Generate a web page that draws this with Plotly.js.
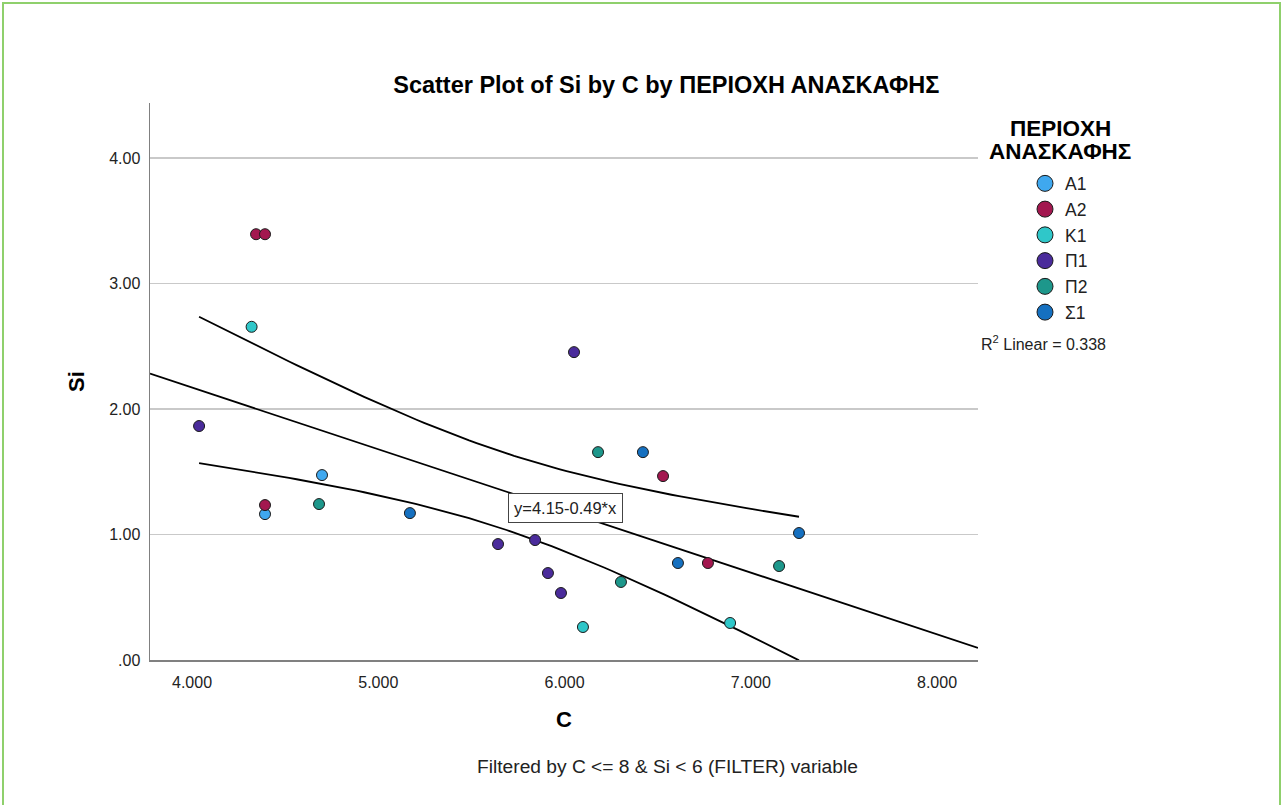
<!DOCTYPE html>
<html><head><meta charset="utf-8">
<script src="https://cdn.plot.ly/plotly-3.0.1.min.js"></script>
<style>
html,body{margin:0;padding:0;background:#fff;overflow:hidden;}
#chart{width:1283px;height:805px;}
#frame{position:absolute;left:2px;top:2px;width:1275px;height:830px;border:2px solid #8fd06c;border-bottom:none;pointer-events:none;}
</style></head><body>
<div id="chart"></div><div id="frame"></div>
<script>
// ---- data ----
const groups = ["Α1", "Α2", "Κ1", "Π1", "Π2", "Σ1"];
const c_A1 = [4.392, 4.698];
const si_A1 = [1.163, 1.474];
const c_A2 = [4.344, 4.392, 4.392, 6.529, 6.770];
const si_A2 = [3.394, 3.394, 1.235, 1.466, 0.773];
const c_K1 = [4.320, 6.099, 6.889];
const si_K1 = [2.656, 0.263, 0.295];
const c_P1 = [4.038, 6.051, 5.643, 5.842, 5.911, 5.981];
const si_P1 = [1.865, 2.454, 0.924, 0.956, 0.693, 0.534];
const c_P2 = [4.682, 6.180, 6.303, 7.152];
const si_P2 = [1.243, 1.657, 0.622, 0.749];
const c_S1 = [5.170, 6.421, 6.609, 7.259];
const si_S1 = [1.171, 1.657, 0.773, 1.012];
const xTickVals = [4, 5, 6, 7, 8];
const xTickText = ["4.000", "5.000", "6.000", "7.000", "8.000"];
const yTickVals = [0, 1, 2, 3, 4];
const yTickText = [".00", "1.00", "2.00", "3.00", "4.00"];
const eqLabel = "y=4.15-0.49*x";
const r2Label = "R<sup>2</sup> Linear = 0.338";
const tCrit = 2.0739; // t(0.975, df=22)

// ---- styles ----
const colors = ["#3fa8ef", "#a3174f", "#2fc7c9", "#4a2b9b", "#1d978b", "#1570c0"];
const FONT = "Liberation Sans, Arial, sans-serif";
const xRange = [3.7745, 8.22];
const yRange = [0, 4.44];

const xsAll = [c_A1, c_A2, c_K1, c_P1, c_P2, c_S1];
const ysAll = [si_A1, si_A2, si_K1, si_P1, si_P2, si_S1];

// OLS fit with mean confidence band
const X = [].concat(...xsAll), Y = [].concat(...ysAll);
const n = X.length;
const mx = X.reduce((a, b) => a + b, 0) / n, my = Y.reduce((a, b) => a + b, 0) / n;
let sxx = 0, sxy = 0, syy = 0;
for (let i = 0; i < n; i++) { sxx += (X[i] - mx) ** 2; sxy += (X[i] - mx) * (Y[i] - my); syy += (Y[i] - my) ** 2; }
const b1 = sxy / sxx, b0 = my - b1 * mx;
const s = Math.sqrt((syy - sxy * sxy / sxx) / (n - 2));
const xmin = Math.min(...X), xmax = Math.max(...X);
const bx = [], bu = [], bl = [];
for (let k = 0; k <= 80; k++) {
  const x = xmin + (xmax - xmin) * k / 80;
  const h = tCrit * s * Math.sqrt(1 / n + (x - mx) ** 2 / sxx);
  bx.push(x); bu.push(b0 + b1 * x + h); bl.push(b0 + b1 * x - h);
}

const traces = [];
const lineStyle = {color: "#000", width: 1.8};
traces.push({x: xRange, y: xRange.map(x => b0 + b1 * x), mode: "lines", line: lineStyle, showlegend: false, hoverinfo: "skip"});
traces.push({x: bx, y: bu, mode: "lines", line: lineStyle, showlegend: false, hoverinfo: "skip"});
traces.push({x: bx, y: bl, mode: "lines", line: lineStyle, showlegend: false, hoverinfo: "skip"});

groups.forEach((g, i) => {
  traces.push({
    x: xsAll[i], y: ysAll[i], mode: "markers", name: g, legendgroup: g, showlegend: false,
    marker: {size: 11, color: colors[i], line: {color: "#1a1a1a", width: 1}}
  });
});
groups.forEach((g, i) => {
  traces.push({
    x: [null], y: [null], mode: "markers", name: g, legendgroup: g, showlegend: true,
    marker: {size: 16, color: colors[i], line: {color: "#1a1a1a", width: 1}}
  });
});

const layout = {
  width: 1283, height: 805,
  margin: {l: 150, r: 305, t: 103, b: 145},
  paper_bgcolor: "#fff", plot_bgcolor: "#fff",
  font: {family: FONT, color: "#222"},
  title: {
    text: "Scatter Plot of Si by C by ΠΕΡΙΟΧΗ ΑΝΑΣΚΑΦΗΣ",
    font: {family: FONT, size: 23.5, color: "#000", weight: "bold"},
    xref: "paper", x: 0.6235, xanchor: "center",
    yref: "container", y: 1 - 85 / 805, yanchor: "middle"
  },
  xaxis: {
    range: xRange, showgrid: false, zeroline: false,
    showline: true, linecolor: "#808080", linewidth: 1.5,
    tickmode: "array", tickvals: xTickVals, ticktext: xTickText,
    ticks: "outside", ticklen: 7, tickcolor: "rgba(0,0,0,0)",
    tickfont: {size: 16, color: "#222"},
    title: {text: "C", font: {family: FONT, size: 22, color: "#000", weight: "bold"}, standoff: 22}
  },
  yaxis: {
    range: yRange, showgrid: true, gridcolor: "#c9c9c9", gridwidth: 1.5, zeroline: false,
    showline: true, linecolor: "#808080", linewidth: 1.5,
    tickmode: "array", tickvals: yTickVals, ticktext: yTickText,
    ticks: "outside", ticklen: 5, tickcolor: "rgba(0,0,0,0)",
    tickfont: {size: 16, color: "#222"},
    title: {text: "Si", font: {family: FONT, size: 22, color: "#000", weight: "bold"}, standoff: 18}
  },
  legend: {
    x: (1025 - 150) / 828, xanchor: "left", y: 0.8878, yanchor: "top",
    font: {family: FONT, size: 17.5, color: "#222"},
    bgcolor: "rgba(0,0,0,0)", tracegroupgap: 0, traceorder: "normal"
  },
  annotations: [
    {x: 6.003, y: 1.214, xref: "x", yref: "y", text: eqLabel, showarrow: false,
     font: {family: FONT, size: 16.5, color: "#222"}, bgcolor: "#fff", bordercolor: "#444", borderwidth: 1, borderpad: 5},
    {x: (1060 - 150) / 828, y: 1 - (128 - 103) / 557, xref: "paper", yref: "paper", text: "ΠΕΡΙΟΧΗ", showarrow: false,
     xanchor: "center", yanchor: "middle", font: {family: FONT, size: 22.5, color: "#000", weight: "bold"}},
    {x: (1060 - 150) / 828, y: 1 - (151 - 103) / 557, xref: "paper", yref: "paper", text: "ΑΝΑΣΚΑΦΗΣ", showarrow: false,
     xanchor: "center", yanchor: "middle", font: {family: FONT, size: 22.5, color: "#000", weight: "bold"}},
    {x: (979 - 150) / 828, y: 1 - (343 - 103) / 557, xref: "paper", yref: "paper", text: r2Label, showarrow: false,
     xanchor: "left", yanchor: "middle", font: {family: FONT, size: 16, color: "#222"}},
    {x: (667 - 150) / 828, y: (660 - 767) / 557, xref: "paper", yref: "paper",
     text: "Filtered by C &lt;= 8 &amp; Si &lt; 6 (FILTER) variable", showarrow: false,
     xanchor: "center", yanchor: "middle", font: {family: FONT, size: 19.2, color: "#222"}}
  ]
};

Plotly.newPlot("chart", traces, layout, {displayModeBar: false, staticPlot: true});
</script>
</body></html>
